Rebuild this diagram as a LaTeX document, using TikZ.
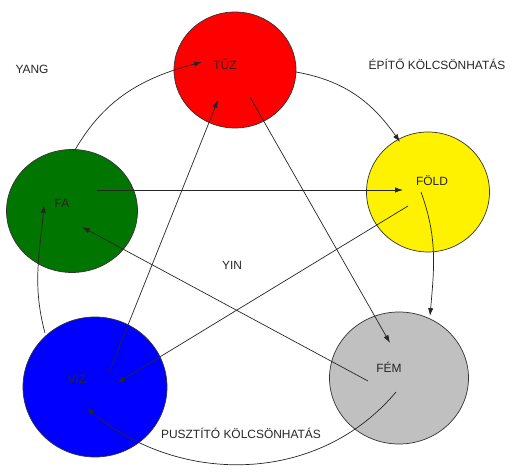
\documentclass[tikz,border=0pt]{standalone}
\usepackage{fontspec}
\setmainfont{Liberation Sans}
\usetikzlibrary{shapes.geometric,arrows.meta}
\definecolor{faszin}{RGB}{0,118,0}
\definecolor{femszin}{RGB}{192,192,192}
\begin{document}
\begin{tikzpicture}[
  elem/.style={ellipse, draw=black!80, thin, inner sep=0pt},
  felirat/.style={font=\fontsize{6.8}{8}\selectfont, text=black!85, inner sep=0pt},
  nyil/.style={draw=black!85, thin, -{Latex[length=4.5pt,width=3pt]}}
]
  \useasboundingbox (0,0) rectangle (10.32,9.46);
  \node[elem, fill=red, minimum width=2.44cm, minimum height=2.32cm] (tuz) at (4.70,8.06) {};
  \node[elem, fill=yellow, minimum width=2.46cm, minimum height=2.40cm] (fold) at (8.56,5.62) {};
  \node[elem, fill=faszin, minimum width=2.62cm, minimum height=2.46cm] (fa) at (1.44,5.24) {};
  \node[elem, fill=blue, minimum width=2.88cm, minimum height=2.80cm] (viz) at (1.90,1.72) {};
  \node[elem, fill=femszin, minimum width=2.78cm, minimum height=2.64cm] (fem) at (7.98,1.90) {};
  \node[felirat] (tuzlabel) at (4.50,8.18) {TŰZ};
  \node[felirat] (foldlabel) at (8.64,5.84) {FÖLD};
  \node[felirat] (falabel) at (1.24,5.40) {FA};
  \node[felirat] (vizlabel) at (1.54,1.90) {VÍZ};
  \node[felirat] (femlabel) at (7.78,2.12) {FÉM};
  \node[felirat] (yang) at (0.64,8.08) {YANG};
  \node[felirat] (yin) at (4.64,4.16) {YIN};
  \node[felirat] (epito) at (8.74,8.18) {ÉPÍTŐ KÖLCSÖNHATÁS};
  \node[felirat] (puszt) at (4.82,0.80) {PUSZTÍTÓ KÖLCSÖNHATÁS};
  \coordinate (fa-top) at (1.50,6.46);
  \coordinate (tuz-in) at (4.04,8.22);
  \coordinate (tuz-right) at (5.92,8.02);
  \coordinate (fold-top) at (8.00,6.62);
  \coordinate (fold-in) at (8.42,5.62);
  \coordinate (fem-top) at (8.60,3.14);
  \coordinate (fem-in) at (7.92,1.62);
  \coordinate (viz-in) at (1.74,1.30);
  \coordinate (viz-top) at (0.90,2.80);
  \coordinate (fa-in) at (0.88,5.36);
  \coordinate (fa-out) at (1.94,5.66);
  \coordinate (fold-tip) at (8.06,5.66);
  \coordinate (fold-out) at (8.16,5.34);
  \coordinate (viz-tip) at (2.34,1.80);
  \coordinate (viz-out) at (2.20,2.06);
  \coordinate (tuz-tip) at (4.36,7.46);
  \coordinate (tuz-out) at (5.00,7.52);
  \coordinate (fem-tip) at (7.80,2.60);
  \coordinate (fem-out) at (7.36,1.84);
  \coordinate (fa-tip) at (1.64,4.92);
  \draw[nyil] (fa-top) to[out=60, in=195] (tuz-in);
  \draw[nyil] (tuz-right) to[out=-10, in=125] (fold-top);
  \draw[nyil] (fold-in) to[out=-70, in=85] (fem-top);
  \draw[nyil] (fem-in) to[out=230, in=-40] (viz-in);
  \draw[nyil] (viz-top) to[out=105, in=-95] (fa-in);
  \draw[nyil] (fa-out) -- (fold-tip);
  \draw[nyil] (fold-out) -- (viz-tip);
  \draw[nyil] (viz-out) -- (tuz-tip);
  \draw[nyil] (tuz-out) -- (fem-tip);
  \draw[nyil] (fem-out) -- (fa-tip);
\end{tikzpicture}
\end{document}
